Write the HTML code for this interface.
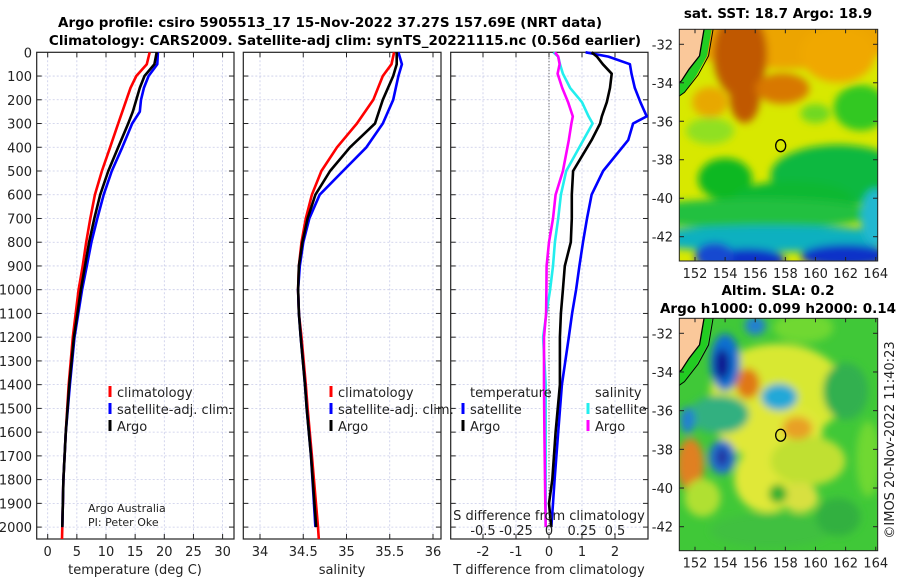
<!DOCTYPE html>
<html><head><meta charset="utf-8">
<style>
html,body{margin:0;padding:0;background:#fff;}
svg{display:block;font-family:"DejaVu Sans","Liberation Sans",sans-serif;}
.t{font-size:13px;fill:#222;}
.b{font-weight:bold;font-size:13.5px;fill:#000;}
</style></head>
<body>
<svg id="chart" width="900" height="580" viewBox="0 0 900 580" xmlns="http://www.w3.org/2000/svg">
<defs>
<filter id="bl" x="-50%" y="-50%" width="200%" height="200%"><feGaussianBlur stdDeviation="4"/></filter>
<clipPath id="m1"><rect x="679.3" y="29.3" width="198.4" height="231.7"/></clipPath>
<clipPath id="m2"><rect x="679.3" y="318.3" width="198.4" height="232.4"/></clipPath>
</defs>
<text class="b" x="330" y="27" text-anchor="middle">Argo profile: csiro 5905513_17 15-Nov-2022 37.27S 157.69E (NRT data)</text>
<text class="b" x="345" y="45" text-anchor="middle">Climatology: CARS2009. Satellite-adj clim: synTS_20221115.nc (0.56d earlier)</text>
<g id="panels"></g>
<g id="maps"></g>
</svg>
<script>
// ---------- data ----------
const depthsT = [0,50,100,150,200,250,300,400,500,600,700,800,900,1000,1200,1400,1600,1800,2000];
const tempClim = [17.5,17,15.2,14.2,13.5,12.8,12.1,10.7,9.3,8.1,7.3,6.6,6.0,5.3,4.3,3.6,3.1,2.7,2.5];
const tempArgo = [18.7,18.3,16.6,15.8,15.2,14.6,13.8,12.1,10.4,9.0,8.0,7.1,6.4,5.7,4.5,3.7,3.1,2.7,2.5];
const tempSat  = [18.9,18.8,17.3,16.5,16.0,15.8,14.5,12.8,11.0,9.6,8.5,7.5,6.7,5.9,4.6,3.8,3.1,2.7,2.5];
const depthsS = [0,50,100,200,300,400,500,600,700,800,900,1000,1100,1200,1400,1500,1700,2000];
const salClim = [35.55,35.52,35.42,35.31,35.12,34.89,34.71,34.6,34.53,34.48,34.45,34.44,34.45,34.48,34.53,34.55,34.6,34.67];
const salArgo = [35.58,35.58,35.54,35.42,35.33,35.04,34.81,34.64,34.55,34.49,34.45,34.44,34.45,34.47,34.52,34.54,34.59,34.65];
const salSat  = [35.6,35.64,35.6,35.54,35.42,35.23,34.96,34.69,34.57,34.5,34.46,34.44,34.45,34.47,34.52,34.54,34.59,34.64];
const depthsD = [0,18,50,90,150,210,270,300,370,500,600,700,800,900,1000,1100,1200,1400,1600,1800,1900,2000];
const dTsat  = [1.11,1.8,2.45,2.5,2.6,2.77,2.96,2.55,2.4,1.64,1.29,1.15,1.03,0.92,0.82,0.7,0.6,0.39,0.28,0.17,0.12,0.07];
const dTargo = [1.29,1.45,1.63,1.9,1.85,1.75,1.6,1.55,1.29,0.73,0.69,0.69,0.66,0.48,0.42,0.36,0.33,0.33,0.2,0.1,0.0,0.07];
const dSsat  = [0.033,0.07,0.083,0.105,0.16,0.25,0.3,0.33,0.26,0.13,0.09,0.07,0.045,0.03,0.008,-0.02,-0.045,-0.025,-0.025,-0.025,-0.025,-0.025];
const dSargo = [0.045,0.07,0.08,0.065,0.1,0.145,0.18,0.17,0.15,0.105,0.05,0.03,0.0,-0.018,-0.02,-0.022,-0.038,-0.038,-0.035,-0.03,-0.028,-0.025];
const depthTicks = [0,100,200,300,400,500,600,700,800,900,1000,1100,1200,1300,1400,1500,1600,1700,1800,1900,2000];
const tempTicks = [0,5,10,15,20,25,30];
const salTicks = [34,34.5,35,35.5,36];
const salTickLabels = ["34","34.5","35","35.5","36"];
const dTTicks = [-2,-1,0,1,2];
const dSTicks = [-0.5,-0.25,0,0.25,0.5];
const dSTickLabels = ["-0.5","-0.25","0","0.25","0.5"];
const latTicks = [-32,-34,-36,-38,-40,-42];
const lonTicks = [152,154,156,158,160,162,164];
const argoLon = 157.69, argoLat = -37.27;

// ---------- axes ----------
const Y = d => 52.3 + d*0.2374;
const xT = t => 47.7 + t*5.83;
const xS = s => 260 + (s-34)*86.5;
const xD = v => 549 + v*33;
const xDS = s => 549 + s*4*33;
const P = [{x0:36.7,x1:234},{x0:243.3,x1:441},{x0:450.7,x1:648}];
const topY=52.3, botY=539;
const NS="http://www.w3.org/2000/svg";
function el(tag, attrs, parent, txt){const e=document.createElementNS(NS,tag);for(const k in attrs)e.setAttribute(k,attrs[k]);if(txt!==undefined)e.textContent=txt;parent.appendChild(e);return e;}
const G=document.getElementById('panels');

function line(xs, depths, vals, color, name, w){
  const pts = vals.map((v,i)=>xs(v).toFixed(1)+','+Y(depths[i]).toFixed(1)).join(' ');
  const p = el('polyline',{points:pts,fill:'none',stroke:color,'stroke-width':w||2.6,'stroke-linejoin':'round'},G);
  
  
}
function frame(p, xs, ticks, labels, name){
  depthTicks.forEach(d=>{ if(d>0){
    const g=el('line',{x1:p.x0,x2:p.x1,y1:Y(d),y2:Y(d),stroke:'#c8cbe8','stroke-width':0.8,'stroke-dasharray':'2,2'},G);
    
    
    el('line',{x1:p.x0,x2:p.x0+5,y1:Y(d),y2:Y(d),stroke:'#222'},G);
    el('line',{x1:p.x1-5,x2:p.x1,y1:Y(d),y2:Y(d),stroke:'#222'},G);
  }});
  ticks.forEach((t,i)=>{
    const x=xs(t);
    const g=el('line',{x1:x,x2:x,y1:topY,y2:botY,stroke:'#c8cbe8','stroke-width':0.8,'stroke-dasharray':'2,2'},G);
    
    
    el('line',{x1:x,x2:x,y1:botY-5,y2:botY,stroke:'#222'},G);
    el('line',{x1:x,x2:x,y1:topY,y2:topY+5,stroke:'#222'},G);
    if(labels){const tl=el('text',{class:'t',x:x,y:556,'text-anchor':'middle'},G,labels[i]);
    
    }
  });
  const r=el('rect',{x:p.x0,y:topY,width:p.x1-p.x0,height:botY-topY,fill:'none',stroke:'#222','stroke-width':1.2},G);
  
  
}
frame(P[0], xT, tempTicks, tempTicks.map(String), 'temperature-panel');
frame(P[1], xS, salTicks, salTickLabels, 'salinity-panel');
frame(P[2], xD, dTTicks, dTTicks.map(String), 'difference-panel');
depthTicks.forEach(d=>{
  const t=el('text',{class:'t',x:32,y:Y(d)+5,'text-anchor':'end'},G,String(d));
  
  
});
el('line',{x1:xD(0),x2:xD(0),y1:topY,y2:botY,stroke:'#444','stroke-dasharray':'1,2','stroke-width':1},G);

line(xT, depthsT.concat([2050]), tempClim.concat([2.45]), '#ff0000','temp-climatology-line');
line(xT, depthsT, tempSat, '#0000ff','temp-satellite-line');
line(xT, depthsT, tempArgo, '#000000','temp-argo-line');
line(xS, depthsS.concat([2050]), salClim.concat([34.68]), '#ff0000','sal-climatology-line');
line(xS, depthsS, salSat, '#0000ff','sal-satellite-line');
line(xS, depthsS, salArgo, '#000000','sal-argo-line');
line(xDS, depthsD, dSsat, '#22eeee','sdiff-satellite-line');
line(xDS, depthsD, dSargo, '#ff00ff','sdiff-argo-line');
line(xD, depthsD, dTsat, '#0000ff','tdiff-satellite-line');
line(xD, depthsD, dTargo, '#000000','tdiff-argo-line');

[[135,574,'temperature (deg C)','x-axis-title-temperature'],[342,574,'salinity','x-axis-title-salinity'],[549,574,'T difference from climatology','x-axis-title-tdiff'],[549,520,'S difference from climatology','s-axis-title']].forEach(a=>{
  const t=el('text',{class:'t',x:a[0],y:a[1],'text-anchor':'middle'},G,a[2]);
  
  
});
dSTicks.forEach((s,i)=>{
  const t=el('text',{class:'t',x:xDS(s),y:535,'text-anchor':'middle'},G,dSTickLabels[i]);
  
  
});

function leg(mx, y, color, label){
  el('rect',{x:mx-1.5,y:y-11,width:3,height:11,fill:color},G);
  const t=el('text',{class:'t',x:mx+7,y:y},G,label);
  
  
}
leg(110,397,'#ff0000','climatology');leg(110,414,'#0000ff','satellite-adj. clim.');leg(110,431,'#000','Argo');
leg(331,397,'#ff0000','climatology');leg(331,414,'#0000ff','satellite-adj. clim.');leg(331,431,'#000','Argo');
let tt=el('text',{class:'t',x:470,y:397},G,'temperature');


tt=el('text',{class:'t',x:595,y:397},G,'salinity');


leg(463,414,'#0000ff','satellite');leg(463,431,'#000','Argo');
leg(588,414,'#22eeee','satellite');leg(588,431,'#ff00ff','Argo');
tt=el('text',{x:88,y:512,'font-size':'11px',fill:'#222'},G,'Argo Australia');


tt=el('text',{x:88,y:526,'font-size':'11px',fill:'#222'},G,'PI: Peter Oke');



// ---------- maps ----------
const M=document.getElementById('maps');
const lonX = l => 695 + (l-152)*15.06;
function buildMap(y0,y1,lat32,lat42,clipId,name,bg,blobs){
  const latY = la => lat32 + (-32-la)/10*(lat42-lat32);
  const g=el('g',{'clip-path':'url(#'+clipId+')'},M);
  el('rect',{x:679.3,y:y0,width:198.4,height:y1-y0,fill:bg},g);
  const bg2=el('g',{filter:'url(#bl)'},g);
  blobs.forEach(b=>el('ellipse',{cx:lonX(b[0]),cy:latY(b[1]),rx:b[2]*15,ry:b[3]*19,fill:b[4]},bg2));
  el('polygon',{points:`679,${y0} ${lonX(153.1)},${y0} ${lonX(152.8)},${latY(-32.6)} ${lonX(152.1)},${latY(-33.6)} ${lonX(151.3)},${latY(-34.5)} 679,${latY(-34.7)}`,fill:'#22cc22'},g);
  el('polygon',{points:`679,${y0} ${lonX(152.6)},${y0} ${lonX(152.3)},${latY(-32.6)} ${lonX(151.6)},${latY(-33.3)} ${lonX(151.1)},${latY(-33.9)} 679,${latY(-34.0)}`,fill:'#fac89a'},g);
  el('polyline',{points:`${lonX(152.6)},${y0} ${lonX(152.3)},${latY(-32.6)} ${lonX(151.6)},${latY(-33.3)} ${lonX(151.1)},${latY(-33.9)} 679,${latY(-34.0)}`,fill:'none',stroke:'#000','stroke-width':1.3},g);
  el('polyline',{points:`${lonX(153.2)},${y0} ${lonX(152.9)},${latY(-32.6)} ${lonX(152.2)},${latY(-33.6)} ${lonX(151.3)},${latY(-34.5)} 679,${latY(-34.7)}`,fill:'none',stroke:'#000','stroke-width':1},g);
  const c=el('ellipse',{cx:lonX(argoLon),cy:latY(argoLat),rx:5,ry:6,fill:'none',stroke:'#000','stroke-width':1.3},M);
  
  
  const r=el('rect',{x:679.3,y:y0,width:198.4,height:y1-y0,fill:'none',stroke:'#222'},M);
  
  
  latTicks.forEach(la=>{
    el('line',{x1:679.3,x2:684,y1:latY(la),y2:latY(la),stroke:'#222'},M);
    el('line',{x1:873,x2:877.7,y1:latY(la),y2:latY(la),stroke:'#222'},M);
    const t=el('text',{class:'t',x:673,y:latY(la)+5,'text-anchor':'end'},M,String(la));
    
    
  });
  lonTicks.forEach(lo=>{
    el('line',{x1:lonX(lo),x2:lonX(lo),y1:y1-4,y2:y1,stroke:'#222'},M);
    el('line',{x1:lonX(lo),x2:lonX(lo),y1:y0,y2:y0+4,stroke:'#222'},M);
    const t=el('text',{class:'t',x:lonX(lo),y:y1+17,'text-anchor':'middle'},M,String(lo));
    
    
  });
}
buildMap(29.3,261,44.3,236.7,'m1','sst-map','#d8e800',[
 [158,-31.3,8,2,'#eca400'],[155,-32.5,1.8,2.3,'#c05800'],[155.3,-34.8,1,1.3,'#c05800'],[157.8,-34.3,1.8,0.8,'#d87800'],[153,-35,1.2,0.8,'#e8a800'],
 [161.5,-32.5,2.5,1.5,'#f0a800'],[163,-35.3,1.8,1.2,'#30c820'],[160,-35.6,1,0.5,'#70d820'],
 [153,-36.5,1.6,0.7,'#90e020'],[154,-39,1.8,1.1,'#10b820'],[161.5,-38.8,4.5,1.6,'#10b840'],[158.5,-40,4,0.9,'#10b830'],
 [156,-40.8,8,0.8,'#20c040'],[157,-42.1,9,0.7,'#10b0c0'],[155.5,-43.2,2.5,0.6,'#1030c8'],[162,-43,3,0.6,'#1030c8'],[153.3,-43,1.3,0.7,'#1848d0'],[164,-41,1,1.5,'#20b8d0']]);
buildMap(318.3,550.7,333.3,526.7,'m2','sla-map','#40c838',[
 [157.5,-35,4.5,2.5,'#d8e830'],[157,-37,3.5,1.5,'#e0e838'],[156.8,-39.5,2.2,1.8,'#e0e838'],[159.5,-38.6,2.5,1.3,'#c0e030'],
 [155.5,-34.6,0.8,0.8,'#e07818'],[154,-33.5,1,1.5,'#1070d0'],[153.8,-33.6,0.5,0.8,'#101890'],[153.6,-36.2,2,1,'#30b080'],
 [157.6,-35.3,1.2,0.7,'#20a8d8'],[158.8,-36.9,1,0.6,'#e8a028'],[151.6,-38.8,0.6,0.9,'#c02010'],
 [151.7,-38.8,0.9,1.4,'#e08020'],[153.8,-38.4,0.9,0.9,'#2070d0'],[153.8,-38.4,0.4,0.5,'#2030a0'],
 [159,-40.5,1.2,0.8,'#d8e040'],[157.5,-40.3,0.6,0.5,'#30b030'],[157,-42.2,4,0.9,'#40c040'],[151.5,-36.5,0.5,0.7,'#2080d0'],[156,-31.6,0.7,0.5,'#2080d0'],
 [162,-35,1.5,1.5,'#30b050'],[163.5,-38.5,0.8,2,'#70d830'],[152.5,-40.5,1.2,1,'#b0e030'],[161.5,-41.5,1.5,1,'#30b040'],[159.2,-31.7,2,0.8,'#70d830']]);
[[778,18,'sat. SST: 18.7 Argo: 18.9','sst-map-title'],[778,295,'Altim. SLA: 0.2','sla-map-title'],[778,313,'Argo h1000: 0.099 h2000: 0.14','sla-map-subtitle']].forEach(a=>{
  const t=el('text',{class:'b',x:a[0],y:a[1],'text-anchor':'middle'},M,a[2]);
  
  
});
const cr=el('text',{class:'t',x:0,y:0,'text-anchor':'middle',transform:'translate(894,440) rotate(-90)'},M,'©IMOS 20-Nov-2022 11:40:23');


</script>
</body></html>
